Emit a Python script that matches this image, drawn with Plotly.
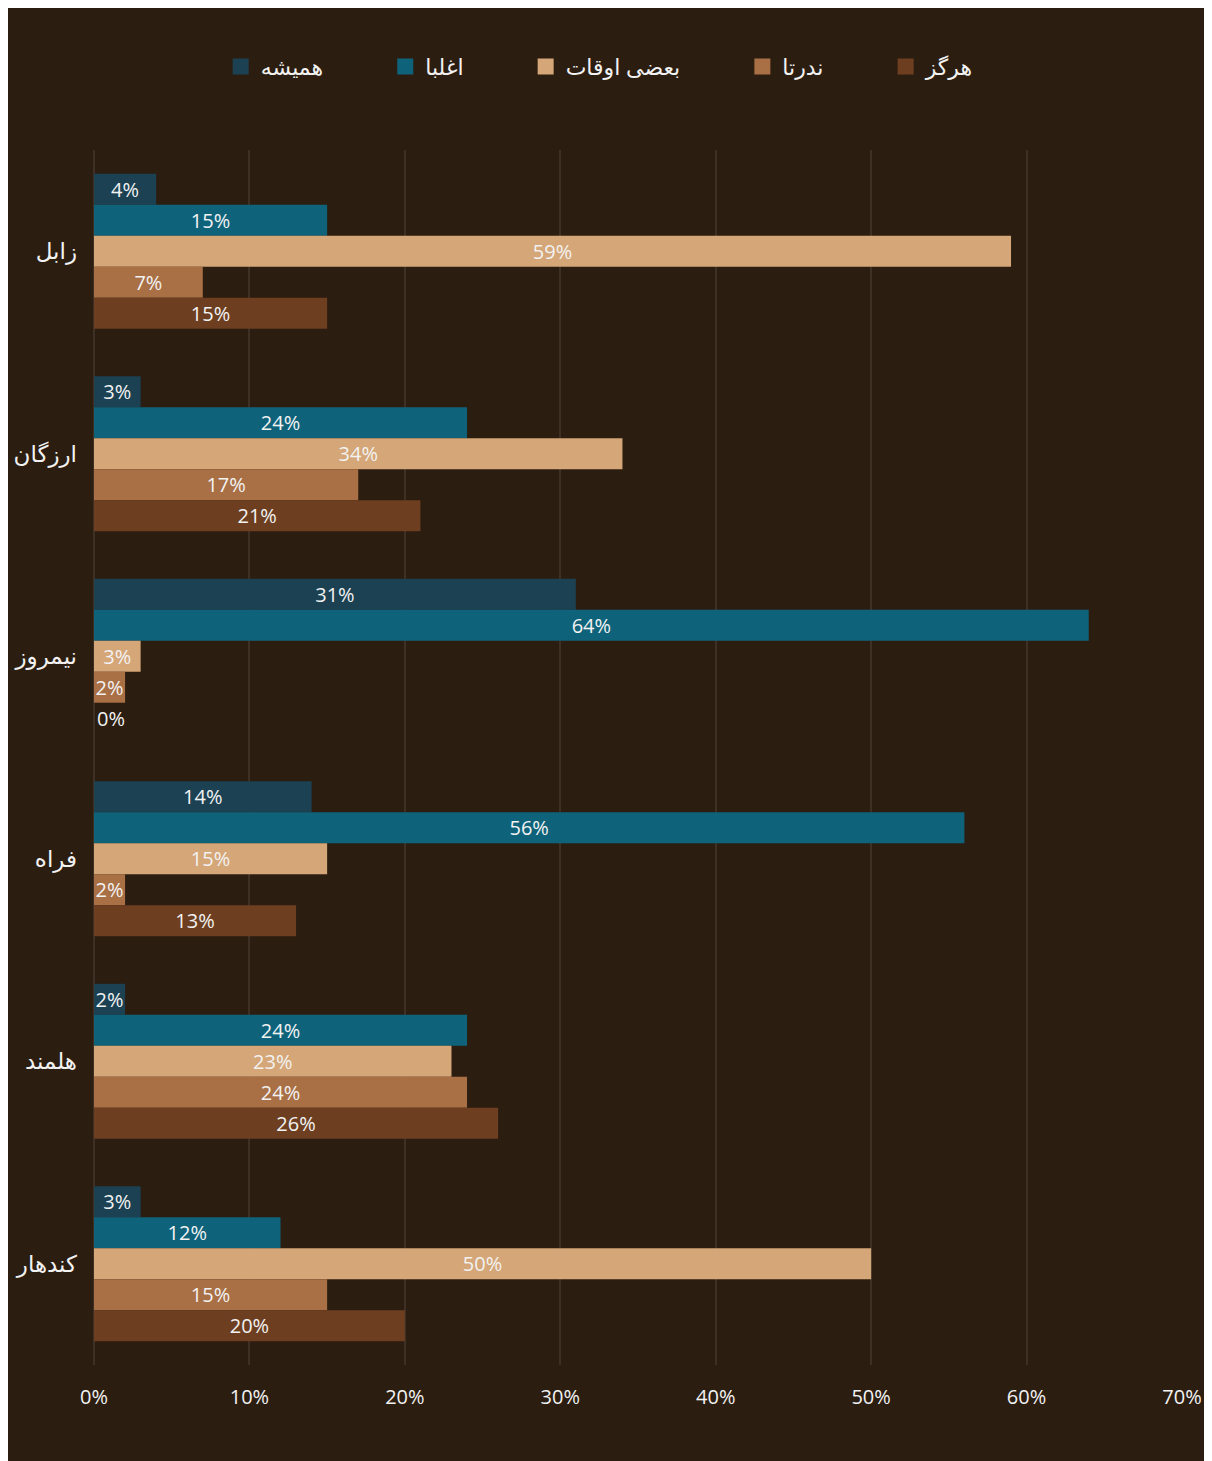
import plotly.graph_objects as go

provinces = ["زابل", "ارزگان", "نیمروز", "فراه", "هلمند", "کندهار"]
series_names = ["همیشه", "اغلبا", "بعضی اوقات", "ندرتا", "هرگز"]
always = [4, 3, 31, 14, 2, 3]
often = [15, 24, 64, 56, 24, 12]
sometimes = [59, 34, 3, 15, 23, 50]
rarely = [7, 17, 2, 2, 24, 15]
never = [15, 21, 0, 13, 26, 20]
x_ticks = [0, 10, 20, 30, 40, 50, 60, 70]
x_tick_labels = ["0%", "10%", "20%", "30%", "40%", "50%", "60%", "70%"]

colors = ["#1b4152", "#0e637b", "#d5a677", "#a96f45", "#6d3f20"]
values = [always, often, sometimes, rarely, never]

BG = "#2c1d11"
GRID = "#3f3025"
TXT = "#f2f2f2"
FONT = "Open Sans, DejaVu Sans, sans-serif"

fig = go.Figure()
for name, vals, col in zip(series_names, values, colors):
    fig.add_trace(go.Bar(
        y=provinces, x=vals, name=name, orientation="h",
        marker=dict(color=col, line=dict(width=0)),
        text=[f"{v}%" for v in vals],
        textposition=["outside" if v == 0 else "inside" for v in vals],
        insidetextanchor="middle", constraintext="none", textangle=0,
        textfont=dict(color=TXT, size=20, family=FONT),
        outsidetextfont=dict(color=TXT, size=20, family=FONT),
        cliponaxis=False, hoverinfo="skip", showlegend=False,
    ))
    # legend-only entry with a larger square swatch
    fig.add_trace(go.Scatter(
        x=[None], y=[None], mode="markers", name=name + "\u00a0" * 10,
        marker=dict(symbol="square", size=16, color=col),
        hoverinfo="skip", showlegend=True,
    ))

fig.update_layout(
    width=1204, height=1453,
    paper_bgcolor=BG, plot_bgcolor=BG,
    barmode="group", bargap=0.235, bargroupgap=0,
    margin=dict(l=86, r=30, t=142, b=96),
    font=dict(family=FONT, color=TXT),
    showlegend=True,
    legend=dict(orientation="h", traceorder="normal",
                x=0.491, xanchor="center", y=1.0685, yanchor="middle",
                font=dict(size=22, color=TXT), bgcolor="rgba(0,0,0,0)",
                itemclick=False, itemdoubleclick=False),
    xaxis=dict(range=[0, 70], tickvals=x_ticks, ticktext=x_tick_labels,
               showgrid=True, gridcolor=GRID, gridwidth=2,
               zeroline=True, zerolinecolor=GRID, zerolinewidth=2,
               showline=False, ticks="", ticklabelstandoff=18,
               automargin=False, tickfont=dict(size=20, color=TXT)),
    yaxis=dict(categoryorder="array", categoryarray=provinces,
               autorange="reversed", showgrid=False, zeroline=False,
               showline=False, ticks="", ticklabelstandoff=16,
               automargin=False, tickfont=dict(size=23, color=TXT)),
)

fig.write_html("out.html")
